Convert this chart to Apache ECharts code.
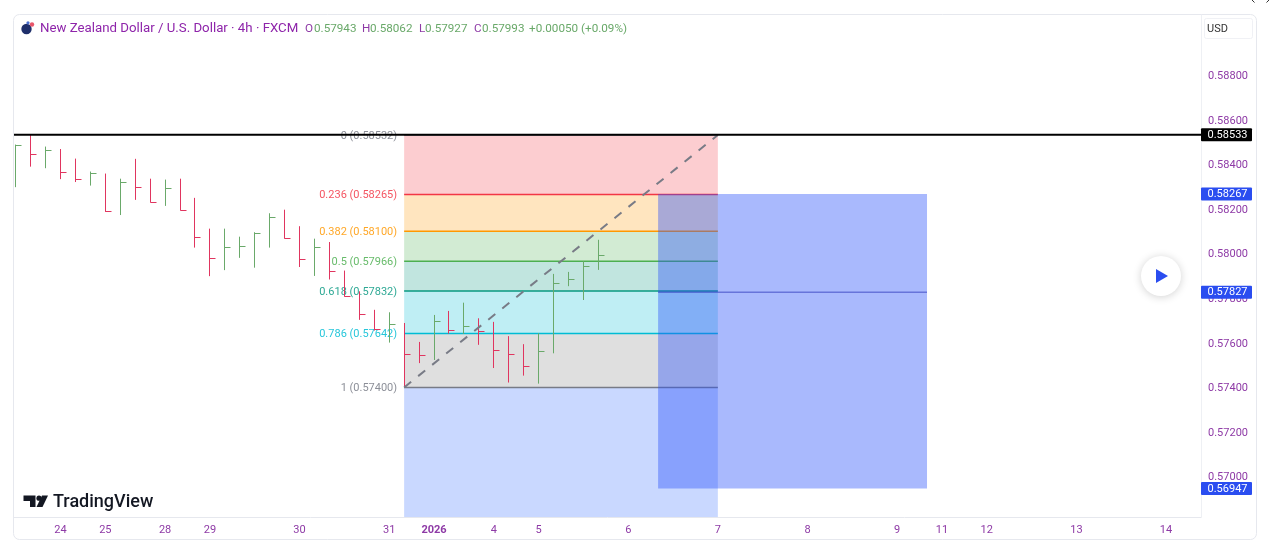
<!DOCTYPE html>
<html>
<head>
<meta charset="utf-8">
<title>NZDUSD 4h</title>
<script src="https://cdn.jsdelivr.net/npm/echarts@6/dist/echarts.min.js"></script>
<style>
html, body { margin: 0; padding: 0; background: #fff; }
#chart { width: 1280px; height: 548px; }
</style>
</head>
<body>
<div id="chart"></div>
<script>
// 4h bars
var opens = [0.58400, 0.58489, 0.58446, 0.58466, 0.58366, 0.58336, 0.58360, 0.58190, 0.58321, 0.58298,
    0.58232, 0.58293, 0.58196, 0.58075, 0.57981, 0.58031, 0.58034, 0.58091, 0.58166, 0.58070,
    0.57976, 0.58029, 0.57922, 0.57809, 0.57728, 0.57662, 0.57683, 0.57550, 0.57544, 0.57697,
    0.57659, 0.57674, 0.57652, 0.57570, 0.57549, 0.57498, 0.57565, 0.57867, 0.57888, 0.57943];
var highs = [0.58489, 0.58534, 0.58480, 0.58469, 0.58426, 0.58368, 0.58359, 0.58336, 0.58425, 0.58336,
    0.58332, 0.58336, 0.58250, 0.58112, 0.58112, 0.58076, 0.58096, 0.58181, 0.58197, 0.58123,
    0.58067, 0.58052, 0.57924, 0.57831, 0.57748, 0.57737, 0.57689, 0.57604, 0.57725, 0.57743,
    0.57780, 0.57710, 0.57694, 0.57630, 0.57594, 0.57643, 0.57909, 0.57918, 0.57966, 0.58062];
var lows = [0.58298, 0.58390, 0.58383, 0.58334, 0.58321, 0.58305, 0.58187, 0.58173, 0.58241, 0.58229,
    0.58214, 0.58193, 0.58027, 0.57899, 0.57926, 0.57981, 0.57937, 0.58027, 0.58067, 0.57940,
    0.57900, 0.57884, 0.57807, 0.57703, 0.57655, 0.57601, 0.57404, 0.57509, 0.57523, 0.57641,
    0.57640, 0.57591, 0.57487, 0.57422, 0.57453, 0.57417, 0.57553, 0.57854, 0.57792, 0.57927];
var closes = [0.58489, 0.58446, 0.58466, 0.58366, 0.58336, 0.58360, 0.58190, 0.58321, 0.58298, 0.58232,
    0.58293, 0.58196, 0.58075, 0.57981, 0.58031, 0.58034, 0.58091, 0.58166, 0.58070, 0.57976,
    0.58029, 0.57922, 0.57809, 0.57728, 0.57662, 0.57683, 0.57550, 0.57544, 0.57697, 0.57659,
    0.57674, 0.57652, 0.57570, 0.57549, 0.57498, 0.57565, 0.57867, 0.57888, 0.57944, 0.57993];

// axis ticks
var timeTickIdx = [3, 6, 10, 13, 19, 25, 28, 32, 35, 41, 47, 53, 59, 62, 65, 71, 77];
var timeTickLabels = ['24', '25', '28', '29', '30', '31', '2026', '4', '5', '6', '7', '8', '9', '11', '12', '13', '14'];
var priceTicks = [0.57000, 0.57200, 0.57400, 0.57600, 0.57800, 0.58000, 0.58200, 0.58400, 0.58600, 0.58800];

// fib retracement tool
var fibRatios = ['0', '0.236', '0.382', '0.5', '0.618', '0.786', '1'];
var fibPrices = [0.58532, 0.58265, 0.58100, 0.57966, 0.57832, 0.57642, 0.57400];
var fibStartIdx = 26, fibEndIdx = 47;
var fibColors = ['#787b86', '#f23645', '#ff9800', '#4caf50', '#089981', '#00bcd4', '#787b86'];
var fibFills = ['#f23645', '#ff9800', '#4caf50', '#089981', '#00bcd4', '#808080', '#2962ff'];

// blue box, black level and the price tags
var boxStartIdx = 43, boxEndIdx = 61;
var boxTop = 0.58267, boxMid = 0.57827, boxBottom = 0.56947;
var blackLevel = 0.58533;
var tagPrices = [0.58533, 0.58267, 0.57827, 0.56947];
var tagColors = ['#000000', '#2a4df0', '#2a4df0', '#2a4df0'];

var xMin = -0.114, xMax = 79.34, yMin = 0.56819, yMax = 0.5907;

var fontName = 'Roboto, sans-serif';
var purple = '#8e3aa6';
var upColor = '#6aa96a', downColor = '#e0355f';

var barData = closes.map(function (c, i) { return [i, highs[i], lows[i], c, opens[i]]; });

function renderBar(params, api) {
    var i = api.value(0), c = api.value(3), o = api.value(4);
    var hi = api.coord([i, api.value(1)]), lo = api.coord([i, api.value(2)]), cl = api.coord([i, c]);
    var x = Math.floor(hi[0]) + 0.5, yc = Math.round(cl[1]) + 0.5;
    var style = {stroke: c >= o ? upColor : downColor, lineWidth: 1, fill: null};
    return {type: 'group', children: [
        {type: 'line', shape: {x1: x, y1: hi[1], x2: x, y2: lo[1]}, style: style},
        {type: 'line', shape: {x1: x, y1: yc, x2: x + 6, y2: yc}, style: style}
    ]};
}

// one band, its top line and its left label per row
function renderFib(params, api) {
    var k = params.dataIndex;
    var left = api.coord([fibStartIdx, fibPrices[k]]);
    var right = api.coord([fibEndIdx, fibPrices[k]]);
    var nextPrice = k + 1 < fibPrices.length ? fibPrices[k + 1] : yMin;
    var bottom = api.coord([fibStartIdx, nextPrice]);
    return {type: 'group', children: [
        {type: 'rect', shape: {x: left[0], y: left[1], width: right[0] - left[0], height: bottom[1] - left[1]},
            style: {fill: fibFills[k], opacity: 0.25}},
        {type: 'line', shape: {x1: left[0], y1: left[1], x2: right[0], y2: right[1]},
            style: {stroke: fibColors[k], lineWidth: 1.5, fill: null}},
        {type: 'text', style: {x: left[0] - 7, y: left[1] + 1, text: fibRatios[k] + ' (' + fibPrices[k].toFixed(5) + ')',
            align: 'right', verticalAlign: 'middle', fill: fibColors[k], font: '11px ' + fontName, opacity: 0.85}}
    ]};
}

function renderBox(params, api) {
    var tl = api.coord([boxStartIdx, boxTop]), br = api.coord([boxEndIdx, boxBottom]);
    var mid = api.coord([boxStartIdx, boxMid]);
    return {type: 'group', children: [
        {type: 'rect', shape: {x: tl[0], y: tl[1], width: br[0] - tl[0], height: br[1] - tl[1]},
            style: {fill: 'rgba(41,80,250,0.4)'}},
        {type: 'line', shape: {x1: tl[0], y1: mid[1], x2: br[0], y2: mid[1]},
            style: {stroke: 'rgba(50,60,190,0.55)', lineWidth: 1.5, fill: null}}
    ]};
}

function renderTag(params, api) {
    var k = params.dataIndex;
    var y = api.coord([xMax, tagPrices[k]])[1];
    return {type: 'group', children: [
        {type: 'rect', shape: {x: 1201, y: y - 6.5, width: 51, height: 13, r: 1}, style: {fill: tagColors[k]}},
        {type: 'text', style: {x: 1207.5, y: y + 0.5, text: tagPrices[k].toFixed(5), verticalAlign: 'middle', fill: '#ffffff', font: '11px ' + fontName}}
    ]};
}

var headerItems = [
    {x: 305, t: 'O', c: purple}, {x: 314, t: '0.57943', c: upColor},
    {x: 362, t: 'H', c: purple}, {x: 370, t: '0.58062', c: upColor},
    {x: 419, t: 'L', c: purple}, {x: 425, t: '0.57927', c: upColor},
    {x: 474, t: 'C', c: purple}, {x: 482, t: '0.57993', c: upColor},
    {x: 529, t: '+0.00050 (+0.09%)', c: upColor}
];

var graphics = [
    {type: 'rect', z: 0, shape: {x: 13.5, y: 14.5, width: 1243, height: 525, r: 6},
        style: {fill: null, stroke: '#e6e8ee', lineWidth: 1}},
    {type: 'rect', z: 20, shape: {x: 1204.5, y: 18.5, width: 48, height: 20, r: 2},
        style: {fill: '#fff', stroke: '#f0f1f5', lineWidth: 1}},
    {type: 'text', z: 21, style: {x: 1207, y: 29.5, text: 'USD', verticalAlign: 'middle', fill: '#333', font: '11px ' + fontName}},
    // flag
    {type: 'circle', z: 20, shape: {cx: 26.5, cy: 29, r: 5.2}, style: {fill: '#1f2f6b'}},
    {type: 'circle', z: 20, shape: {cx: 32, cy: 24.5, r: 2.2}, style: {fill: '#e8556a'}},
    {type: 'circle', z: 20, shape: {cx: 28, cy: 22.8, r: 1.6}, style: {fill: '#4a6fd0'}},
    {type: 'text', z: 20, style: {x: 40, y: 29, text: 'New Zealand Dollar / U.S. Dollar \u00b7 4h \u00b7 FXCM', verticalAlign: 'middle', fill: '#8e24aa', font: '13.25px ' + fontName}},
    // logo
    {type: 'polygon', z: 20, shape: {points: [[23.5, 495.5], [35.5, 495.5], [35.5, 507], [30, 507], [30, 501], [23.5, 501]]}, style: {fill: '#131722'}},
    {type: 'circle', z: 20, shape: {cx: 39, cy: 498.2, r: 2.6}, style: {fill: '#131722'}},
    {type: 'polygon', z: 20, shape: {points: [[42, 495.5], [48, 495.5], [42.5, 507], [36.5, 507]]}, style: {fill: '#131722'}},
    {type: 'text', z: 20, style: {x: 53, y: 502.5, text: 'TradingView', verticalAlign: 'middle', fill: '#131722', font: '500 18px ' + fontName}},
    // play button
    {type: 'circle', z: 20, shape: {cx: 1161, cy: 276, r: 20},
        style: {fill: '#fff', shadowBlur: 8, shadowColor: 'rgba(0,0,0,0.18)', shadowOffsetY: 1}},
    {type: 'polygon', z: 21, shape: {points: [[1156, 269], [1168, 276], [1156, 283]]}, style: {fill: '#2a4df0'}},
    // cut-off close mark at the top right
    {type: 'polyline', z: 20, shape: {points: [[1252, 0], [1254.5, 2.5]]}, style: {stroke: '#333', fill: null, lineWidth: 1}},
    {type: 'polyline', z: 20, shape: {points: [[1269, 0], [1266.5, 2.5]]}, style: {stroke: '#333', fill: null, lineWidth: 1}}
];
headerItems.forEach(function (h) {
    graphics.push({type: 'text', z: 20, style: {x: h.x, y: 29, text: h.t, verticalAlign: 'middle', fill: h.c, font: '11.7px ' + fontName}});
});

var option = {
    animation: false,
    backgroundColor: '#fff',
    grid: {left: 14, right: 79, top: 15, bottom: 31},
    xAxis: {
        type: 'value', min: xMin, max: xMax,
        splitLine: {show: false},
        axisLine: {onZero: false, lineStyle: {color: '#e6e8ee'}},
        axisTick: {show: false},
        axisLabel: {
            customValues: timeTickIdx, margin: 8,
            color: purple, fontSize: 11, fontFamily: fontName,
            formatter: function (v) {
                var s = timeTickLabels[timeTickIdx.indexOf(v)];
                return s === '2026' ? '{b|' + s + '}' : s;
            },
            rich: {b: {fontWeight: 'bold', fontSize: 11, color: purple, fontFamily: fontName}}
        }
    },
    yAxis: {
        type: 'value', position: 'right', min: yMin, max: yMax,
        splitLine: {show: false},
        axisLine: {show: true, onZero: false, lineStyle: {color: '#eef0f4'}},
        axisTick: {show: false},
        axisLabel: {
            customValues: priceTicks, margin: 7,
            color: purple, fontSize: 11, fontFamily: fontName,
            formatter: function (v) { return '{p|' + v.toFixed(5) + '}'; },
            rich: {p: {fontSize: 11, color: purple, fontFamily: fontName, padding: [2, 0, 0, 0]}}
        }
    },
    series: [
        {type: 'custom', name: 'fib', z: 2, renderItem: renderFib, data: fibPrices.map(function (p, i) { return [fibStartIdx, p]; }), encode: {x: 0, y: 1}},
        {type: 'custom', name: 'box', z: 3, renderItem: renderBox, data: [[boxStartIdx, boxTop]], encode: {x: 0, y: 1}},
        {type: 'custom', name: 'bars', z: 4, renderItem: renderBar, data: barData, encode: {x: 0, y: [1, 2, 3]}},
        {type: 'line', name: 'diagonal', z: 5, showSymbol: false, silent: true,
            data: [[fibStartIdx, fibPrices[6]], [fibEndIdx, fibPrices[0]]],
            lineStyle: {color: '#787b86', width: 2, type: [9, 9]}},
        {type: 'line', name: 'level', z: 6, showSymbol: false, silent: true,
            data: [[xMin, blackLevel], [xMax, blackLevel]],
            lineStyle: {color: '#000', width: 2}},
        {type: 'custom', name: 'tags', z: 10, clip: false, renderItem: renderTag, data: tagPrices.map(function (p) { return [xMax, p]; }), encode: {x: 0, y: 1}}
    ],
    graphic: graphics
};

var chart = echarts.init(document.getElementById('chart'));
chart.setOption(option);
</script>
</body>
</html>
